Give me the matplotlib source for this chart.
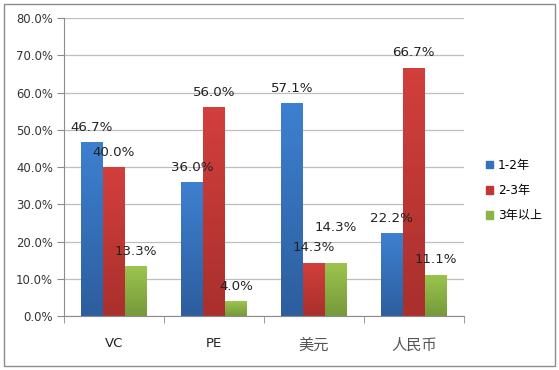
import numpy as np
import matplotlib.pyplot as plt
from matplotlib.colors import LinearSegmentedColormap
from matplotlib.patches import Rectangle

plt.rcParams['font.family'] = ['DejaVu Sans', 'Noto Sans CJK SC']

categories = ['VC', 'PE', '美元', '人民币']
series_names = ['1-2年', '2-3年', '3年以上']
short_term = [46.7, 36.0, 57.1, 22.2]
mid_term = [40.0, 56.0, 14.3, 66.7]
long_term = [13.3, 4.0, 14.3, 11.1]
yticks = [0, 10, 20, 30, 40, 50, 60, 70, 80]

series = [short_term, mid_term, long_term]
# (light top, dark bottom) colours for a soft vertical gradient
colors = [('#3D80D0', '#2D5E9E'), ('#D23F3C', '#A9302D'), ('#9BC54E', '#76993A')]
legend_colors = ['#3470BD', '#C23733', '#8AB544']

fig = plt.figure(figsize=(5.59, 3.70), dpi=100)
fig.patch.set_facecolor('white')
fig.patches.append(Rectangle((0.007, 0.012), 0.986, 0.978, transform=fig.transFigure,
                             fill=False, edgecolor='#8C8C8C', linewidth=1.0))

ax = fig.add_axes([0.1145, 0.146, 0.715, 0.805])
x = np.arange(len(categories))
width = 0.22

for i, (vals, (c1, c2)) in enumerate(zip(series, colors)):
    bars = ax.bar(x + (i - 1) * width, vals, width, color=c1, zorder=2,
                  label=series_names[i], edgecolor='none')
    cmap = LinearSegmentedColormap.from_list('g', [c2, c1])
    for b in bars:
        bx = b.get_x()
        w, h = b.get_width(), b.get_height()
        grad = np.linspace(0, 1, 100).reshape(-1, 1)
        im = ax.imshow(grad, extent=(bx, bx + w, 0, h), origin='lower', cmap=cmap,
                       aspect='auto', zorder=2.5)
        im.set_clip_path(b)

# data labels (green 美元 label was nudged up in the original to avoid overlap)
offsets = {(2, 2): 9.4}
for i, vals in enumerate(series):
    for j, v in enumerate(vals):
        dy = offsets.get((i, j), 4.0)
        ax.text(x[j] + (i - 1) * width, v + dy, f'{v:.1f}%', ha='center', va='center',
                fontsize=9.6, color='#222222', zorder=4)

ax.set_xlim(-0.5, len(categories) - 0.5)
ax.set_ylim(0, 80)
ax.set_yticks(yticks)
ax.set_yticklabels([f'{t:.1f}%' for t in yticks], fontsize=8.4, color='#333333')
ax.set_xticks(x)
ax.set_xticklabels(categories, fontsize=9.5, color='#222222')
ax.set_xticks(np.arange(len(categories) + 1) - 0.5, minor=True)
ax.tick_params(axis='x', which='major', length=0, pad=15)
ax.tick_params(axis='x', which='minor', length=5, color='#8C8C8C')
ax.tick_params(axis='y', length=5, color='#8C8C8C', pad=3)
for lab in ax.get_xticklabels()[2:]:
    lab.set_fontfamily(['Noto Sans CJK SC'])
    lab.set_fontsize(11)
    lab.set_color('#555555')

ax.grid(axis='y', color='#BEBEBE', linewidth=0.9, zorder=0)
ax.set_axisbelow(True)
for s in ['top', 'right']:
    ax.spines[s].set_visible(False)
ax.spines['left'].set_color('#8C8C8C')
ax.spines['bottom'].set_color('#8C8C8C')

handles = [Rectangle((0, 0), 1, 1, color=c) for c in legend_colors]
leg = fig.legend(handles, series_names, loc='upper left', bbox_to_anchor=(0.85, 0.6),
                 frameon=False, handlelength=0.6, handleheight=0.6,
                 handletextpad=0.4, labelspacing=1.0,
                 prop={'family': ['DejaVu Sans', 'Noto Sans CJK SC'], 'size': 8.7})

fig.savefig('out.png', dpi=100)
